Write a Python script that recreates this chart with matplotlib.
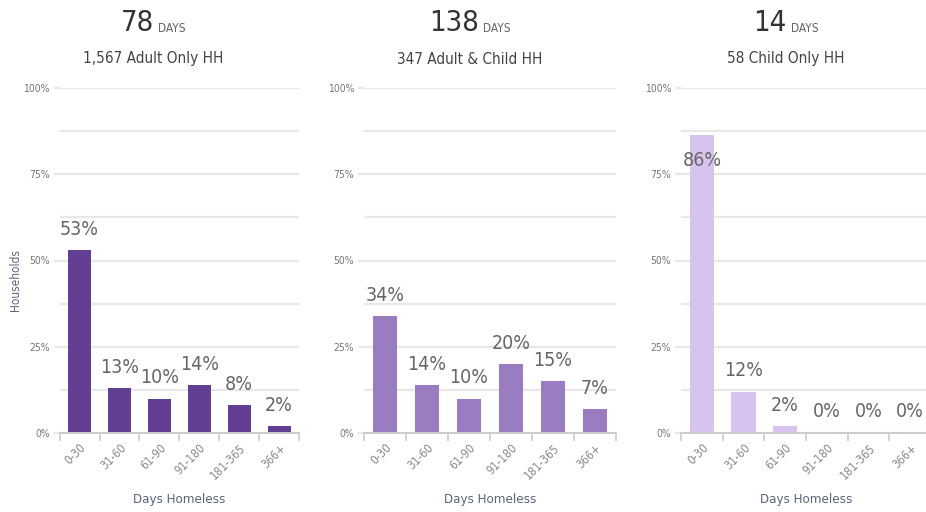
import matplotlib
matplotlib.use("Agg")
import matplotlib.pyplot as plt
from matplotlib.ticker import FixedLocator, NullFormatter

plt.rcParams['font.family'] = ['DejaVu Sans']
plt.rcParams['font.stretch'] = 'condensed'

# Data
categories = ["0-30", "31-60", "61-90", "91-180", "181-365", "366+"]
adult_only = [53, 13, 10, 14, 8, 2]
adult_child = [34, 14, 10, 20, 15, 7]
child_only = [86.5, 12, 2, 0.4, 0.4, 0.4]

median_days = [78, 138, 14]
household_titles = ["1,567 Adult Only HH", "347 Adult & Child HH", "58 Child Only HH"]
y_ticks = [0, 25, 50, 75, 100]
y_tick_labels = ["0%", "25%", "50%", "75%", "100%"]

series = [adult_only, adult_child, child_only]
colors = ["#623f92", "#9a7dc1", "#d6c3ee"]

W, H = 926, 512
fig = plt.figure(figsize=(W / 100, H / 100), dpi=100)

# panel rectangles in pixels: left, width ; shared bottom/top
panels_px = [(59.6, 239.5), (364, 252), (681, 250)]
bottom_px, top_px = 79, 424
title_centers = [153, 470, 786]

grid_c = "#e8e8e8"
axis_c = "#5b6577"

axes = []
for i, (left, width) in enumerate(panels_px):
    ax = fig.add_axes([left / W, bottom_px / H, width / W, (top_px - bottom_px) / H])
    axes.append(ax)
    vals = series[i]
    x = list(range(len(categories)))
    ax.bar(x, vals, width=0.58, color=colors[i], zorder=3)
    ax.set_xlim(-0.5, len(categories) - 0.5)
    ax.set_ylim(0, 100)

    # gridlines every 12.5%, labels every 25%
    ax.yaxis.set_major_locator(FixedLocator(y_ticks))
    ax.set_yticklabels(y_tick_labels)
    ax.yaxis.set_minor_locator(FixedLocator([12.5, 37.5, 62.5, 87.5]))
    ax.yaxis.set_minor_formatter(NullFormatter())
    ax.grid(axis='y', which='both', color=grid_c, linewidth=1.6, zorder=0)
    ax.tick_params(axis='y', which='major', length=4, color=grid_c, width=1.6,
                   labelsize=7.5, labelcolor="#777777", pad=3)
    ax.tick_params(axis='y', which='minor', length=0)

    # category boundary ticks, labels centred on bars
    ax.xaxis.set_major_locator(FixedLocator([b - 0.5 for b in range(len(categories) + 1)]))
    ax.xaxis.set_major_formatter(NullFormatter())
    ax.xaxis.set_minor_locator(FixedLocator(x))
    ax.set_xticklabels(categories, minor=True, rotation=45, ha='right',
                       rotation_mode='anchor', fontsize=8.5, color="#888888")
    ax.tick_params(axis='x', which='major', length=6, color="#cccccc", width=1.2)
    ax.tick_params(axis='x', which='minor', length=0, pad=6)

    for s in ["top", "right", "left"]:
        ax.spines[s].set_visible(False)
    ax.spines["bottom"].set_color("#cccccc")
    ax.spines["bottom"].set_linewidth(1.4)
    ax.spines["bottom"].set_zorder(4)

    cx = (left + width / 2) / W
    fig.text(cx, 1 - 500 / H, "Days Homeless", fontsize=9.5, color=axis_c,
             ha='center', va='center')

    for xi, v in zip(x, vals):
        label = f"{round(v):d}%"
        if v > 80:
            ax.annotate(label, (xi, v), xytext=(0, -12), textcoords="offset points",
                        ha='center', va='top', fontsize=14, color="#666666", zorder=5)
        else:
            ax.annotate(label, (xi, v), xytext=(0, 8), textcoords="offset points",
                        ha='center', va='bottom', fontsize=14, color="#666666", zorder=5)

fig.text(15 / W, 1 - 280 / H, "Households", rotation=90, ha='center', va='center',
         fontsize=8.5, color=axis_c)

# panel headers: large median number followed by small "DAYS"
renderer = fig.canvas.get_renderer()
for i in range(3):
    cx = title_centers[i]
    big = fig.text(0, 1 - 23 / H, f"{median_days[i]}", fontsize=21, color="#333333",
                   ha='left', va='center')
    small = fig.text(0, 1 - 28 / H, "DAYS", fontsize=8.5, color="#666666",
                     ha='left', va='center')
    wb = big.get_window_extent(renderer).width
    ws = small.get_window_extent(renderer).width
    gap = 4
    total = wb + gap + ws
    x0 = cx - total / 2
    big.set_x(x0 / W)
    small.set_x((x0 + wb + gap) / W)
    fig.text(cx / W, 1 - 59 / H, household_titles[i], fontsize=11, color="#444444",
             ha='center', va='center')

fig.savefig("out.png", dpi=100)
